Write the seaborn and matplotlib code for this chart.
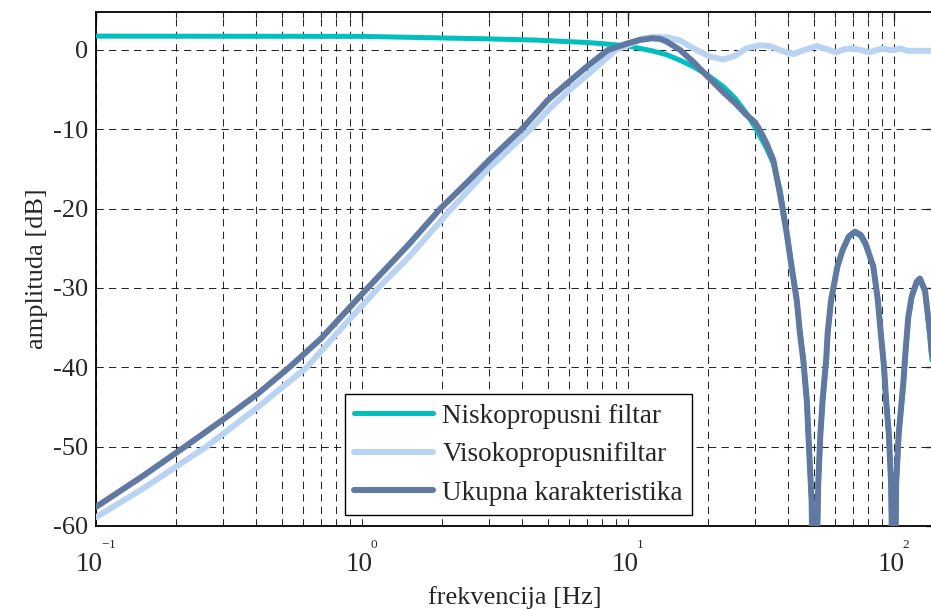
import numpy as np
import pandas as pd
import matplotlib
matplotlib.use("Agg")
import matplotlib.pyplot as plt
import seaborn as sns

# ---------------- data ----------------
labels = ["Niskopropusni filtar", "Visokopropusnifiltar", "Ukupna karakteristika"]

f_lp = [0.1, 1, 1.5, 3, 4.5, 6, 7, 8, 9, 10, 12.3, 14, 15.7, 17.6, 20, 22.8, 25.3,
        27.9, 30, 33.2, 35.2, 37.3, 39.5, 41.2, 43.1, 44.3, 45.6, 47, 47.9, 49,
        50.2, 51.9, 52.9, 53.9, 55.6, 56.3, 58, 61.3, 64.1, 67.6, 71.3, 75, 78.2,
        83.6, 86.9, 89.2, 91.7, 93.4, 95.6, 97.5, 100, 101.9, 104.2, 108.4, 110.6,
        113.2, 116.5, 121.7, 125.2, 130.8, 136.6, 141]
db_lp = [1.75, 1.72, 1.6, 1.4, 1.25, 1.05, 0.95, 0.8, 0.65, 0.5, -0.1, -0.6, -1.3,
         -2.1, -3.2, -4.6, -6.1, -8.0, -9.7, -12.4, -14.3, -17.6, -22.8, -27.2,
         -31.8, -35.5, -39.0, -44.3, -50.2, -57.0, -80.0, -54.8, -48.5, -44.4,
         -39.3, -35.9, -31.6, -27.1, -25.3, -23.6, -23.0, -23.5, -24.6, -27.2,
         -31.3, -35.6, -40.0, -44.3, -48.5, -54.8, -80.0, -54.8, -48.4, -42.1,
         -38.0, -33.8, -31.2, -29.4, -29.0, -30.5, -36.3, -41.5]

f_hp = [0.1, 0.15, 0.26, 0.4, 0.62, 0.8, 1.15, 1.5, 2.17, 3, 4.3, 5, 6, 7, 8, 9,
        10, 10.5, 11.2, 12.3, 14, 15.7, 17.6, 20.2, 22.8, 25, 27.9, 31.3, 34,
        39.4, 42, 46, 51.4, 56, 60.7, 65, 70, 75, 80.8, 86, 91, 96, 101, 106,
        112, 141]
db_hp = [-58.9, -55.3, -50.0, -45.2, -40.0, -35.8, -30.0, -26.1, -20.0, -14.9,
         -10.0, -7.6, -5.1, -3.2, -1.5, 0.0, 0.6, 0.9, 1.4, 1.65, 1.6, 1.2, 0.2,
         -0.8, -1.2, -0.8, 0.2, 0.6, 0.5, -0.3, -0.5, 0.0, 0.5, 0.1, -0.3, 0.1,
         0.2, 0.0, -0.3, 0.0, 0.2, 0.0, 0.0, 0.2, -0.1, -0.1]

f_tot = [0.1, 0.15, 0.216, 0.3, 0.4, 0.533, 0.7, 1.05, 1.5, 1.97, 2.5, 3, 3.98,
         5, 6, 7, 8.4, 10, 11, 12.3, 13.2, 14, 15.7, 17.6, 20, 22.8, 25.3, 27.9,
         30, 31.3, 33.2, 35.2, 37.3, 39.5, 41.2, 43.1, 44.3, 45.6, 47, 47.9, 49,
         50.2, 51.9, 52.9, 53.9, 55.6, 56.3, 58, 61.3, 64.1, 67.6, 71.3, 75, 78.2,
         83.6, 86.9, 89.2, 91.7, 93.4, 95.6, 97.5, 100, 101.9, 104.2, 108.4,
         110.6, 113.2, 116.5, 121.7, 125.2, 130.8, 136.6, 141]
db_tot = [-57.6, -53.7, -50.0, -46.6, -43.5, -40.0, -36.4, -30.0, -24.5, -20.0,
          -16.6, -13.9, -10.0, -6.3, -4.0, -2.1, 0.0, 0.85, 1.25, 1.47, 1.4,
          1.05, 0.0, -1.5, -3.4, -5.3, -6.7, -8.2, -9.1, -10.1, -11.8, -13.9,
          -18.2, -23.1, -27.3, -31.5, -35.7, -39.1, -44.1, -50.0, -56.7, -80.0,
          -54.6, -48.3, -44.1, -39.0, -35.7, -31.5, -27.3, -25.2, -23.5, -22.9,
          -23.3, -24.4, -27.3, -31.5, -35.7, -39.9, -44.1, -48.3, -54.6, -80.0,
          -54.6, -48.3, -42.0, -37.8, -33.6, -31.1, -29.2, -28.8, -30.3, -35.7,
          -41.0]

x_ticks = [0.1, 1, 10, 100]
x_exponents = ["-1", "0", "1", "2"]
x_ticklabels = [r"$\quad\;{}^{{}^{%s}}$" % e + "\n10" for e in x_exponents]
y_ticks = [-60, -50, -40, -30, -20, -10, 0]
y_ticklabels = ["-60", "-50", "-40", "-30", "-20", "-10", "0"]

colors = ["#00BFBF", "#B9D3F2", "#6079A3"]

# ---------------- style ----------------
sns.set_style("white")
plt.rcParams["font.family"] = ["Liberation Serif", "DejaVu Serif"]
plt.rcParams["mathtext.fontset"] = "custom"
plt.rcParams["mathtext.rm"] = "Liberation Serif"
plt.rcParams["mathtext.it"] = "Liberation Serif:italic"
plt.rcParams["axes.unicode_minus"] = False

W, H = 931, 610
fig = plt.figure(figsize=(W / 100, H / 100), dpi=100)
left_px, right_px, top_px, bot_px = 96, 934, 12, 526
ax = fig.add_axes([left_px / W, (H - bot_px) / H, (right_px - left_px) / W,
                   (bot_px - top_px) / H])

series = [(f_lp, db_lp, 3.6), (f_hp, db_hp, 4.3), (f_tot, db_tot, 4.3)]
for (fx, dy, lw), lab, col in zip(series, labels, colors):
    df = pd.DataFrame({"f": fx, "dB": dy})
    sns.lineplot(data=df, x="f", y="dB", ax=ax, color=col, lw=lw, label=lab,
                 sort=False, estimator=None, zorder=3)

ax.set_xscale("log")
decade_px = 266.0
xmax = 10 ** (-1 + (right_px - left_px) / decade_px)
ax.set_xlim(0.1, xmax)
ymax = (50 - top_px) / (476 / 60.0)
ax.set_ylim(-60, ymax)

ax.set_xticks(x_ticks)
ax.set_xticklabels(x_ticklabels, multialignment="left", linespacing=0.15)
ax.set_yticks(y_ticks)
ax.set_yticklabels(y_ticklabels)
ax.xaxis.set_minor_locator(matplotlib.ticker.LogLocator(base=10, subs=np.arange(2, 10)))
ax.xaxis.set_minor_formatter(matplotlib.ticker.NullFormatter())

gls = (0, (7, 5))
ax.grid(True, which="major", axis="both", color="black", linestyle=gls, lw=0.75, alpha=0.85)
ax.grid(True, which="minor", axis="x", color="black", linestyle=gls, lw=0.75, alpha=0.85)
ax.set_axisbelow(True)

ax.tick_params(which="major", direction="in", top=True, right=True, length=6,
               width=1.0, labelsize=19)
ax.tick_params(which="minor", direction="in", top=True, right=True, length=4, width=0.8)
ax.tick_params(axis="y", which="major", pad=5.5)
ax.tick_params(axis="x", which="major", pad=12.5, labelsize=19.5)

for s in ax.spines.values():
    s.set_color("black")
    s.set_linewidth(1.3)
    s.set_visible(True)

ax.set_xlabel("frekvencija [Hz]", fontsize=19, labelpad=6.5)
ax.set_ylabel("amplituda [dB]", fontsize=19, labelpad=4)

leg = ax.legend(loc="lower left", bbox_to_anchor=(0.297, 0.021), fontsize=19.5,
                frameon=True, fancybox=False, shadow=False, handlelength=2.9,
                handletextpad=0.35, labelspacing=0.5, borderpad=0.35,
                borderaxespad=0)
leg.get_frame().set_edgecolor("black")
leg.get_frame().set_linewidth(1.0)
leg.get_frame().set_alpha(1)
leg.set_zorder(5)

fig.savefig("out.png", dpi=100)
